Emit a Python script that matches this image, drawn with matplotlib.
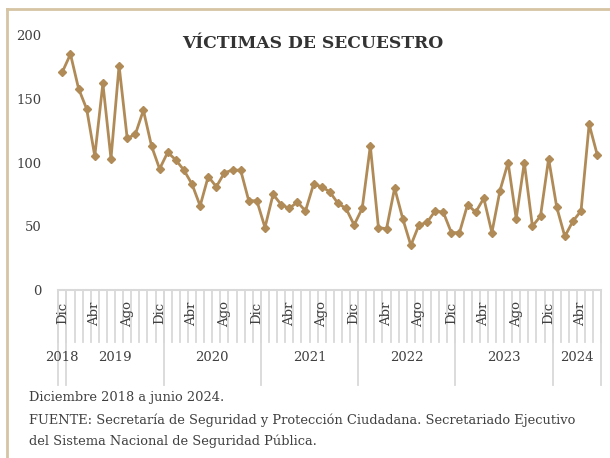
import matplotlib.pyplot as plt
import numpy as np

# monthly kidnapping victims, Dec 2018 - Jun 2024
victimas = [171,
            185, 158, 142, 105, 162, 103, 176, 119, 122, 141, 113, 95,
            108, 102, 94, 83, 66, 89, 81, 92, 94, 94, 70, 70,
            49, 75, 67, 64, 69, 62, 83, 81, 77, 68, 64, 51,
            64, 113, 49, 48, 80, 56, 35, 51, 53, 62, 61, 45,
            45, 67, 61, 72, 45, 78, 100, 56, 100, 50, 58, 103,
            65, 42, 54, 62, 130, 106]
meses = ['Dic', 'Ene', 'Feb', 'Mar', 'Abr', 'May', 'Jun',
         'Jul', 'Ago', 'Sep', 'Oct', 'Nov']
anios = ['2018', '2019', '2020', '2021', '2022', '2023', '2024']
meses_por_anio = [1, 12, 12, 12, 12, 12, 6]
y_ticks = [0, 50, 100, 150, 200]

serif = 'DejaVu Serif'
txt = '#404040'
oro = '#b08b57'
gris = '#d9d9d9'

fig = plt.figure(figsize=(6.1, 4.58), dpi=100)
ax = fig.add_axes([58.3 / 610, (458 - 290) / 458, 543 / 610, 255 / 458])

x = np.arange(len(victimas))
ax.plot(x, victimas, color=oro, lw=2, marker='D', ms=4.5, mec=oro, mfc=oro, zorder=5)

ax.set_xlim(-0.5, len(victimas) - 0.5)
ax.set_ylim(0, 200)
ax.set_yticks(y_ticks)
ax.set_yticklabels([str(v) for v in y_ticks], family=serif, fontsize=9.5, color=txt)
ax.tick_params(axis='y', length=0, pad=12)
ax.set_xticks([])
for s in ['top', 'right', 'left']:
    ax.spines[s].set_visible(False)
ax.spines['bottom'].set_color(gris)
ax.spines['bottom'].set_linewidth(1.5)

tr = ax.get_xaxis_transform()
# short ticks between every month
for b in np.arange(-0.5, len(victimas), 1.0):
    ax.plot([b, b], [0, -0.204], color=gris, lw=1.3, transform=tr, clip_on=False)

# month labels (every 4th month starting in December)
for i in range(0, len(victimas), 4):
    ax.text(i, -0.045, meses[i % 12], rotation=90, ha='center', va='top',
            family=serif, fontsize=9.5, color=txt, transform=tr)

# year groups
inicio = -0.5
for anio, n in zip(anios, meses_por_anio):
    fin = inicio + n
    ax.plot([inicio, inicio], [0, -0.3725], color=gris, lw=1.3, transform=tr, clip_on=False)
    ax.text((inicio + fin) / 2, -0.263, anio, ha='center', va='center',
            family=serif, fontsize=9.5, color=txt, transform=tr)
    inicio = fin
ax.plot([inicio, inicio], [0, -0.3725], color=gris, lw=1.3, transform=tr, clip_on=False)

fig.text(313 / 610, 1 - 43 / 458, 'VÍCTIMAS DE SECUESTRO', ha='center', va='center',
         family=serif, fontsize=12.3, fontweight='bold', color='#333333')

notas = ['Diciembre 2018 a junio 2024.',
         'FUENTE: Secretaría de Seguridad y Protección Ciudadana. Secretariado Ejecutivo',
         'del Sistema Nacional de Seguridad Pública.']
for yy, t in zip([397, 420, 441], notas):
    fig.text(29 / 610, 1 - yy / 458, t, ha='left', va='center',
             family=serif, fontsize=9.4, color=txt)

# frame lines on left and top
borde = '#d6c4a3'
fig.add_artist(plt.Line2D([7 / 610, 7 / 610], [0, 1 - 9 / 458], color=borde, lw=2,
                          transform=fig.transFigure))
fig.add_artist(plt.Line2D([7 / 610, 1], [1 - 9 / 458, 1 - 9 / 458], color=borde, lw=2,
                          transform=fig.transFigure))

fig.savefig('out.png', dpi=100)
